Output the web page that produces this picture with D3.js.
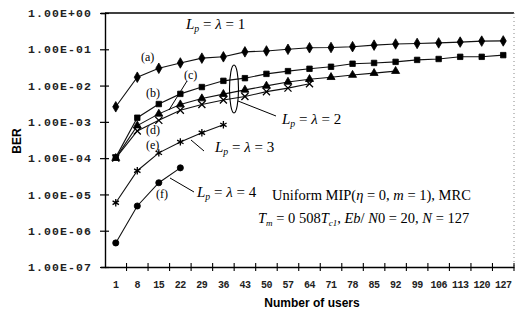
<!DOCTYPE html>
<html>
<head>
<meta charset="utf-8">
<script src="https://cdnjs.cloudflare.com/ajax/libs/d3/7.8.5/d3.min.js"></script>
<style>
  body { margin: 0; background: #fff; }
  svg { display: block; }
  .ann { font-family: "Liberation Serif", "DejaVu Serif", serif; fill: #000; }
</style>
</head>
<body>
<div id="chart"></div>
<script>
// number of users (categories on x)
var users = [1, 8, 15, 22, 29, 36, 43, 50, 57, 64, 71, 78, 85, 92, 99, 106, 113, 120, 127];

// BER curves
var berA = [2.6e-3, 1.7e-2, 3.0e-2, 4.2e-2, 5.7e-2, 6.2e-2, 8.5e-2, 9.0e-2, 1.0e-1, 1.1e-1,
            1.12e-1, 1.18e-1, 1.3e-1, 1.4e-1, 1.45e-1, 1.5e-1, 1.58e-1, 1.68e-1, 1.7e-1];
var berB = [1.05e-4, 1.3e-3, 3.1e-3, 5.9e-3, 9.1e-3, 1.35e-2, 1.6e-2, 2.1e-2, 2.5e-2, 2.9e-2,
            3.3e-2, 4.0e-2, 4.2e-2, 4.5e-2, 5.1e-2, 5.4e-2, 6.2e-2, 6.2e-2, 6.9e-2];
var berC = [1.0e-4, 7.9e-4, 1.66e-3, 3.0e-3, 4.4e-3, 5.8e-3, 7.6e-3, 9.8e-3, 1.26e-2, 1.5e-2,
            1.7e-2, 1.95e-2, 2.2e-2, 2.5e-2];
var berD = [1.0e-4, 5.6e-4, 1.1e-3, 2.1e-3, 3.0e-3, 4.0e-3, 5.0e-3, 6.8e-3, 8.5e-3, 1.12e-2];
var berE = [5.9e-6, 4.5e-5, 1.4e-4, 2.8e-4, 5.0e-4, 8.3e-4];
var berF = [4.6e-7, 4.8e-6, 2.1e-5, 5.4e-5];

var yTicks = [1, 1e-1, 1e-2, 1e-3, 1e-4, 1e-5, 1e-6, 1e-7];

var width = 516, height = 315;
var margin = {left: 105, right: 2, top: 13, bottom: 48};

var svg = d3.select("#chart").append("svg")
  .attr("width", width)
  .attr("height", height);

var x = d3.scaleBand()
  .domain(users)
  .range([margin.left, width - margin.right]);

var y = d3.scaleLog()
  .domain([1e-7, 1])
  .range([height - margin.bottom, margin.top]);

var fmt = function(v) {
  var e = Math.round(Math.log10(v));
  var a = Math.abs(e);
  return "1.00E" + (e < 0 ? "-" : "+") + (a < 10 ? "0" + a : a);
};

// frame: heavy top, faint dotted right
svg.append("line")
  .attr("x1", margin.left).attr("x2", width - margin.right)
  .attr("y1", margin.top).attr("y2", margin.top)
  .attr("stroke", "#000").attr("stroke-width", 1.6);
svg.append("line")
  .attr("x1", width - margin.right).attr("x2", width - margin.right)
  .attr("y1", margin.top).attr("y2", height - margin.bottom)
  .attr("stroke", "#888").attr("stroke-dasharray", "1,3");

// y axis
var yAxis = svg.append("g")
  .attr("transform", "translate(" + margin.left + ",0)")
  .call(d3.axisLeft(y).tickValues(yTicks).tickFormat(fmt).tickSize(4).tickPadding(9));
yAxis.select(".domain").attr("stroke-width", 1.4);
yAxis.selectAll(".tick line").attr("x2", 4).attr("x1", -5).attr("stroke-width", 1.2);
yAxis.selectAll(".tick text")
  .style("font-family", "'Liberation Mono', 'DejaVu Sans Mono', monospace")
  .style("font-weight", "bold")
  .style("font-size", "11.5px")
  .style("letter-spacing", "1.1px")
  .attr("fill", "#222");

// x axis: labels at band centres, ticks on band edges
var xAxis = svg.append("g")
  .attr("transform", "translate(0," + (height - margin.bottom) + ")")
  .call(d3.axisBottom(x).tickSize(0).tickPadding(14));
xAxis.select(".domain").attr("stroke-width", 1.4);
xAxis.selectAll(".tick text")
  .style("font-family", "'Liberation Mono', 'DejaVu Sans Mono', monospace")
  .style("font-weight", "bold")
  .style("font-size", "10px")
  .style("letter-spacing", "-0.5px")
  .attr("fill", "#222");
xAxis.selectAll(".edge")
  .data(users)
  .enter().append("line")
  .attr("class", "edge")
  .attr("x1", function(d) { return x(d) + x.bandwidth(); })
  .attr("x2", function(d) { return x(d) + x.bandwidth(); })
  .attr("y1", -4).attr("y2", 4)
  .attr("stroke", "#000").attr("stroke-width", 1.1);

// axis titles
svg.append("text")
  .attr("transform", "translate(21," + 141 + ") rotate(-90)")
  .attr("text-anchor", "middle")
  .style("font-family", "'Liberation Sans', Arial, sans-serif")
  .style("font-weight", "bold")
  .style("font-size", "12px")
  .text("BER");
svg.append("text")
  .attr("x", 312).attr("y", 307)
  .attr("text-anchor", "middle")
  .style("font-family", "'Liberation Sans', Arial, sans-serif")
  .style("font-weight", "bold")
  .style("font-size", "12px")
  .text("Number of users");

// series
var series = [
  {vals: berA, shape: d3.symbolDiamond, size: 32},
  {vals: berB, shape: d3.symbolSquare, size: 30},
  {vals: berC, shape: d3.symbolTriangle, size: 28},
  {vals: berD, shape: d3.symbolX, size: 34},
  {vals: berE, shape: d3.symbolAsterisk, size: 38},
  {vals: berF, shape: d3.symbolCircle, size: 30}
];

var line = d3.line()
  .x(function(d) { return x(d.u) + x.bandwidth() / 2; })
  .y(function(d) { return y(d.v); });

series.forEach(function(s) {
  var pts = s.vals.map(function(v, i) { return {u: users[i], v: v}; });
  var g = svg.append("g");
  g.append("path")
    .datum(pts)
    .attr("d", line)
    .attr("fill", "none")
    .attr("stroke", "#111")
    .attr("stroke-width", 1.1);
  var open = (s.shape === d3.symbolX || s.shape === d3.symbolAsterisk);
  g.selectAll("path.m")
    .data(pts)
    .enter().append("path")
    .attr("class", "m")
    .attr("transform", function(d) {
      return "translate(" + (x(d.u) + x.bandwidth() / 2) + "," + y(d.v) + ")";
    })
    .attr("d", d3.symbol().type(s.shape).size(s.size))
    .attr("fill", open ? "none" : "#000")
    .attr("stroke", "#000")
    .attr("stroke-width", open ? 1.3 : 0.8);
});

// annotations
function lp(g, px, py, n, size) {
  var t = g.append("text").attr("class", "ann")
    .attr("x", px).attr("y", py)
    .style("font-size", size + "px");
  t.append("tspan").style("font-style", "italic").text("L");
  t.append("tspan").style("font-style", "italic").style("font-size", (size * 0.65) + "px")
    .attr("dy", 3).text("p");
  t.append("tspan").attr("dy", -3).text(" = ");
  t.append("tspan").style("font-style", "italic").text("λ");
  t.append("tspan").text(" = " + n);
}
lp(svg, 186, 29, 1, 15);
lp(svg, 282, 124, 2, 15);
lp(svg, 215, 152, 3, 15);
lp(svg, 197, 197, 4, 15);

var labels = [["(a)", 141, 61], ["(b)", 146, 97], ["(c)", 184, 79], ["(d)", 146, 134], ["(e)", 146, 149], ["(f)", 156, 198]];
labels.forEach(function(l) {
  svg.append("text").attr("class", "ann")
    .attr("x", l[1]).attr("y", l[2])
    .style("font-size", "12px")
    .text(l[0]);
});

// pointer lines
var pointers = [[187, 81, 169, 110], [238, 101, 276, 116], [191, 140, 204, 151], [170, 178, 194, 192]];
pointers.forEach(function(p) {
  svg.append("line")
    .attr("x1", p[0]).attr("y1", p[1]).attr("x2", p[2]).attr("y2", p[3])
    .attr("stroke", "#000").attr("stroke-width", 1);
});
svg.append("ellipse")
  .attr("cx", 234).attr("cy", 89).attr("rx", 4.5).attr("ry", 24)
  .attr("fill", "none").attr("stroke", "#000").attr("stroke-width", 1.1);

var t1 = svg.append("text").attr("class", "ann")
  .attr("x", 272).attr("y", 200).style("font-size", "14.5px");
t1.append("tspan").text("Uniform MIP(");
t1.append("tspan").style("font-style", "italic").text("η");
t1.append("tspan").text(" = 0,  ");
t1.append("tspan").style("font-style", "italic").text("m");
t1.append("tspan").text(" = 1), MRC");

var t2 = svg.append("text").attr("class", "ann")
  .attr("x", 258).attr("y", 223).style("font-size", "14.5px");
t2.append("tspan").style("font-style", "italic").text("T");
t2.append("tspan").style("font-style", "italic").style("font-size", "9px").attr("dy", 3).text("m");
t2.append("tspan").attr("dy", -3).text(" = 0 508");
t2.append("tspan").style("font-style", "italic").text("T");
t2.append("tspan").style("font-style", "italic").style("font-size", "9px").attr("dy", 3).text("c1");
t2.append("tspan").attr("dy", -3).text(", ");
t2.append("tspan").style("font-style", "italic").text("Eb");
t2.append("tspan").text("/ ");
t2.append("tspan").style("font-style", "italic").text("N");
t2.append("tspan").text("0 = 20, ");
t2.append("tspan").style("font-style", "italic").text("N");
t2.append("tspan").text(" = 127");
</script>
</body>
</html>
